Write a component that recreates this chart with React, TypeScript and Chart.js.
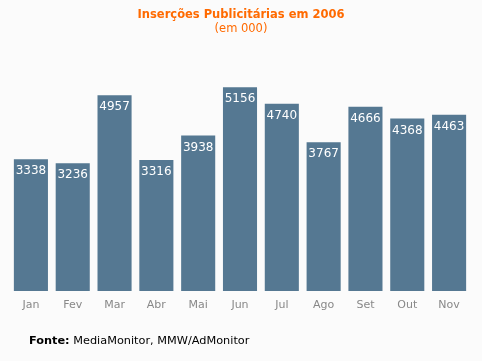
import React, { useEffect, useRef } from "react";
import { Chart, registerables } from "chart.js";

Chart.register(...registerables);

const months = ["Jan", "Fev", "Mar", "Abr", "Mai", "Jun", "Jul", "Ago", "Set", "Out", "Nov"];
const insercoes = [3338, 3236, 4957, 3316, 3938, 5156, 4740, 3767, 4666, 4368, 4463];
const titleText = "Inserções Publicitárias em 2006";
const subtitleText = "(em 000)";
const sourceLabel = "Fonte:";
const sourceText = " MediaMonitor, MMW/AdMonitor";

const FONT = "'DejaVu Sans', Verdana, sans-serif";
const BG = "#fbfbfb";
const BAR = "#557892";
const ORANGE = "#ff6a00";

export default function App() {
  const ref = useRef<HTMLCanvasElement>(null);
  useEffect(() => {
    document.body.style.margin = "0";
    document.body.style.background = BG;
    const canvas = ref.current!;
    const labelsPlugin = {
      id: "decor",
      beforeDraw(chart: any) {
        const ctx = chart.ctx;
        ctx.save();
        ctx.fillStyle = BG;
        ctx.fillRect(0, 0, chart.width, chart.height);
        ctx.restore();
      },
      afterDraw(chart: any) {
        const ctx = chart.ctx;
        ctx.save();
        ctx.textAlign = "center";
        ctx.textBaseline = "middle";
        ctx.fillStyle = ORANGE;
        ctx.font = `bold 11.5px ${FONT}`;
        ctx.fillText(titleText, chart.width / 2, 15);
        ctx.font = `11.5px ${FONT}`;
        ctx.fillText(subtitleText, chart.width / 2, 29);

        const meta = chart.getDatasetMeta(0);
        ctx.fillStyle = "#ffffff";
        ctx.font = `12px ${FONT}`;
        meta.data.forEach((bar: any, i: number) => {
          ctx.fillText(String(insercoes[i]), bar.x, bar.y + 12);
        });

        ctx.textAlign = "left";
        ctx.fillStyle = "#000000";
        ctx.font = `bold 11.3px ${FONT}`;
        const x0 = 29;
        ctx.fillText(sourceLabel, x0, 341);
        const w = ctx.measureText(sourceLabel).width;
        ctx.font = `11.3px ${FONT}`;
        ctx.fillText(sourceText, x0 + w, 341);
        ctx.restore();
      },
    };
    const chart = new Chart(canvas, {
      type: "bar",
      data: {
        labels: months,
        datasets: [
          {
            data: insercoes,
            backgroundColor: BAR,
            borderWidth: 0,
            categoryPercentage: 1,
            barPercentage: 0.815,
          },
        ],
      },
      options: {
        responsive: false,
        animation: false,
        devicePixelRatio: 1,
        layout: { padding: { top: 54, left: 10, right: 12, bottom: 0 } },
        plugins: {
          legend: { display: false },
          tooltip: { enabled: false },
          title: { display: false },
        },
        scales: {
          x: {
            grid: { display: false, drawTicks: false },
            border: { display: false },
            ticks: {
              color: "#888888",
              font: { family: FONT, size: 11 },
              padding: 8,
            },
            afterFit: (s: any) => {
              s.height = 70;
            },
          },
          y: {
            display: false,
            min: 0,
            max: 6000,
          },
        },
      },
      plugins: [labelsPlugin],
    });
    return () => chart.destroy();
  }, []);
  return <canvas ref={ref} width={482} height={361} style={{ display: "block" }} />;
}
